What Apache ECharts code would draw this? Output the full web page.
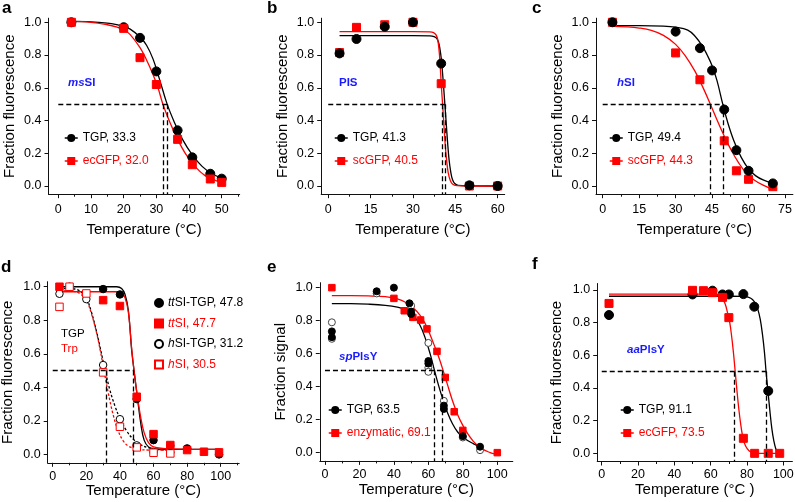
<!DOCTYPE html>
<html><head><meta charset="utf-8">
<script src="https://cdn.jsdelivr.net/npm/echarts@6/dist/echarts.min.js"></script>
<style>html,body{margin:0;padding:0;background:#fff}#c{width:795px;height:502px}</style>
</head><body><div id="c"></div>
<script>
// ---------------- DATA ----------------
const yTicks = [0, 0.2, 0.4, 0.6, 0.8, 1.0];
const aXTicks = [0, 10, 20, 30, 40, 50];      const aXMinor = [5, 15, 25, 35, 45, 55];
const bXTicks = [0, 15, 30, 45, 60];          const bXMinor = [7.5, 22.5, 37.5, 52.5];
const cXTicks = [0, 15, 30, 45, 60, 75];      const cXMinor = [7.5, 22.5, 37.5, 52.5, 67.5];
const dXTicks = [0, 20, 40, 60, 80, 100];     const dXMinor = [10, 30, 50, 70, 90, 110];
const eXTicks = [0, 20, 40, 60, 80, 100];     const eXMinor = [10, 30, 50, 70, 90];
const fXTicks = [0, 20, 40, 60, 80, 100];     const fXMinor = [10, 30, 50, 70, 90];

// panel a : msSI
const aTgpPts = [[4,1.0],[20,0.97],[25,0.905],[30,0.70],[36.5,0.34],[41,0.175],[46.5,0.075],[50,0.045]];
const aGfpPts = [[4,1.0],[20,0.963],[25,0.784],[30,0.62],[36.5,0.285],[41,0.13],[46.5,0.043],[50,0.022]];
const aTgpFit = [[4,1.005],[10,1.003],[15,0.995],[18,0.985],[20,0.975],[22,0.958],[25,0.91],[27,0.86],[29,0.775],[31,0.65],[33.3,0.5],[35.5,0.39],[38,0.285],[41,0.19],[44,0.12],[47,0.075],[50,0.048]];
const aGfpFit = [[4,1.005],[10,1.0],[15,0.985],[18,0.97],[20,0.955],[22,0.925],[25,0.845],[27,0.77],[29,0.68],[30.5,0.6],[32,0.5],[34,0.395],[36.5,0.285],[39,0.195],[42,0.115],[45,0.062],[48,0.035],[50,0.022]];
const aTm = [32.0, 33.4];

// panel b : PIS
const bTgpPts = [[4,0.81],[10,0.898],[20,0.973],[30,1.0],[40,0.748],[50,0.004],[60,0.0]];
const bGfpPts = [[4,0.815],[10,0.969],[20,0.985],[30,1.0],[40,0.625],[50,0.0],[60,0.0]];
const bTgpFit = [[4,0.918],[30,0.918],[36,0.917],[37.5,0.912],[38.5,0.9],[39.2,0.87],[39.8,0.81],[40.2,0.75],[40.8,0.62],[41.3,0.5],[41.8,0.38],[42.3,0.26],[42.8,0.16],[43.4,0.085],[44,0.04],[44.8,0.015],[46,0.004],[50,0.001],[60,0.0]];
const bGfpFit = [[4,0.943],[30,0.943],[36,0.942],[37.3,0.937],[38.3,0.92],[38.9,0.88],[39.4,0.8],[39.8,0.69],[40.1,0.6],[40.5,0.5],[40.9,0.39],[41.4,0.26],[41.9,0.16],[42.5,0.08],[43.2,0.035],[44,0.012],[45.5,0.002],[50,0.0],[60,0.0]];
const bTm = [40.5, 41.3];

// panel c : hSI
const cTgpPts = [[4,1.0],[30,0.943],[40,0.842],[45,0.706],[50,0.467],[55,0.219],[60,0.093],[70,0.016]];
const cGfpPts = [[4,1.0],[30,0.813],[40,0.649],[50,0.276],[55,0.093],[60,0.041],[70,-0.004]];
const cTgpFit = [[4,0.98],[15,0.98],[25,0.977],[30,0.97],[35,0.952],[38,0.915],[41,0.855],[43,0.8],[45,0.735],[47,0.645],[49.4,0.5],[51.5,0.385],[54,0.275],[57,0.175],[60,0.105],[63,0.062],[66,0.037],[70,0.016]];
const cGfpFit = [[4,0.975],[10,0.972],[15,0.965],[20,0.95],[25,0.92],[30,0.865],[34,0.795],[38,0.7],[41,0.61],[44.3,0.5],[47,0.405],[50,0.305],[53,0.215],[56,0.14],[59,0.08],[62,0.04],[66,0.005],[70,-0.02]];
const cTm = [44.3, 49.4];

// panel d : ttSI / hSI
const dTtTgpPts = [[30,0.986],[40,0.954],[50,0.33],[60,0.085],[70,0.052],[80,0.036],[99,0.0]];
const dTtPts    = [[4,1.0],[30,0.92],[40,0.885],[50,0.344],[60,0.121],[70,0.056],[80,0.026],[90,0.016],[99,0.012]];
const dHTgpPts  = [[4,0.958],[10,1.0],[20,0.926],[30,0.533],[40,0.21],[50,0.054],[60,0.014],[70,0.012]];
const dHPts     = [[4,0.88],[10,1.0],[20,0.96],[30,0.489],[40,0.165],[50,0.042],[60,0.01],[70,0.006]];
const dTtTgpFit = [[4,1.0],[30,1.0],[38,1.0],[41,0.99],[43,0.955],[45,0.86],[47,0.62],[48.4,0.5],[50.4,0.34],[52.4,0.185],[54.4,0.085],[57,0.045],[60,0.035],[70,0.03],[100,0.03]];
const dTtFit    = [[4,0.97],[30,0.97],[38,0.97],[41,0.962],[43,0.935],[45,0.85],[47,0.63],[48.4,0.5],[50.4,0.345],[52.4,0.22],[54.4,0.13],[57,0.07],[60,0.045],[70,0.033],[100,0.03]];
const dHTgpFit  = [[4,0.985],[8,0.99],[12,0.988],[16,0.975],[20,0.93],[23,0.85],[26,0.735],[28.5,0.625],[31.2,0.5],[34,0.385],[37,0.29],[40,0.215],[44,0.14],[48,0.09],[52,0.06],[57,0.04],[62,0.03],[70,0.026]];
const dHFit     = [[4,0.975],[8,0.976],[12,0.973],[16,0.96],[20,0.92],[23,0.84],[26,0.73],[28.5,0.61],[30.5,0.5],[33,0.37],[36,0.235],[39,0.14],[42,0.08],[45,0.05],[50,0.032],[58,0.026],[70,0.025]];
const dTm = [31.6, 48.2];

// panel e : spPlsY
const eTgpPts  = [[4,0.735],[4,0.70],[30,0.978],[40,1.0],[49,0.905],[50,0.855],[50,0.84],[60,0.555],[60,0.54],[69,0.285],[69,0.265],[80,0.10],[90,0.036]];
const eTgpOpen = [[4,0.79],[4,0.69],[30,0.965],[50,0.89],[60,0.665],[60,0.515],[60,0.49],[69,0.314],[80,0.092],[90,0.015]];
const eEnzPts  = [[4,1.0],[40,0.935],[46,0.86],[51,0.82],[55.5,0.804],[59.2,0.75],[65,0.614],[69.8,0.456],[75,0.248],[80,0.135],[100,0.0]];
const eTgpFit  = [[4,0.903],[15,0.903],[25,0.9],[35,0.893],[42,0.882],[47,0.865],[51,0.835],[55,0.775],[58,0.7],[61,0.6],[63.5,0.5],[66,0.405],[68.5,0.32],[71,0.245],[74,0.175],[77,0.125],[80,0.095],[83,0.072],[86,0.055],[90,0.035]];
const eEnzFit  = [[4,0.952],[15,0.952],[25,0.95],[35,0.945],[42,0.932],[47,0.91],[51,0.88],[55,0.835],[58,0.785],[61,0.715],[64,0.635],[66.5,0.565],[68.5,0.5],[71,0.415],[74,0.315],[77,0.23],[80,0.165],[83,0.112],[86,0.07],[89,0.04],[92,0.018],[95,0.004],[98,-0.006],[100,0.0]];
const eTm = [63.5, 67.8];

// panel f : aaPlsY
const fTgpPts = [[4,0.847],[50,0.973],[61,0.996],[66.5,0.973],[70,0.973],[78,0.975],[84,0.898],[91.7,0.382]];
const fGfpPts = [[4,0.918],[50,0.998],[56,0.996],[61,0.984],[66.5,0.955],[70,0.831],[78,0.092],[84.2,0.0],[91.7,0.0],[98,0.0]];
const fTgpFit = [[4,0.962],[40,0.962],[70,0.962],[78,0.961],[81,0.955],[83,0.942],[84.5,0.92],[86,0.88],[87.3,0.82],[88.5,0.73],[89.6,0.62],[90.5,0.5],[91.5,0.385],[92.6,0.26],[93.7,0.15],[94.8,0.075],[95.8,0.03],[96.8,0.008],[97.5,0.0]];
const fGfpFit = [[4,0.975],[40,0.975],[60,0.975],[63,0.972],[65,0.963],[66.5,0.948],[68,0.915],[69.3,0.86],[70.5,0.8],[71.5,0.72],[72.5,0.62],[73.5,0.5],[74.5,0.38],[75.5,0.27],[76.5,0.18],[77.5,0.11],[78.5,0.065],[80,0.03],[82,0.008],[85,0.0],[98,0.0]];
const fTm = [73.2, 90.7];

// legend names
const aNames = ['TGP, 33.3', 'ecGFP, 32.0'];
const bNames = ['TGP, 41.3', 'scGFP, 40.5'];
const cNames = ['TGP, 49.4', 'scGFP, 44.3'];
const dNames = ['ttSI-TGP, 47.8', 'ttSI, 47.7', 'hSI-TGP, 31.2', 'hSI, 30.5'];
const eNames = ['TGP, 63.5', 'enzymatic, 69.1'];
const fNames = ['TGP, 91.1', 'ecGFP, 73.5'];

// ---------------- STYLE / LAYOUT ----------------
const FONT = '"Liberation Sans", Arial, sans-serif';
const BLACK = '#000000', RED = '#ff0000', BLUE = '#1a1aff';
const layout = [
  {left:48.5, top:18.2, width:191.2, height:176, xMin:-3, xMax:55.5, yMin:-0.05, yMax:1.025, xT:aXTicks, xM:aXMinor, yName:'Fraction fluorescence', xName:'Temperature (°C)', xGap:28, xMargin:9, yGap:31},
  {left:321.2, top:18.2, width:183.5, height:176, xMin:-2.5, xMax:62.5, yMin:-0.05, yMax:1.025, xT:bXTicks, xM:bXMinor, yName:'Fraction fluorescence', xName:'Temperature (°C)', xGap:28, xMargin:9, yGap:31},
  {left:596, top:18.2, width:196.9, height:176, xMin:-2.75, xMax:78.25, yMin:-0.05, yMax:1.025, xT:cXTicks, xM:cXMinor, yName:'Fraction fluorescence', xName:'Temperature (°C)', xGap:28, xMargin:9, yGap:31},
  {left:47.7, top:281.7, width:191.5, height:181.1, xMin:-3, xMax:111, yMin:-0.05, yMax:1.03, xT:dXTicks, xM:dXMinor, yName:'Fraction fluorescence', xName:'Temperature (°C)', xGap:21, xMargin:7, yGap:32},
  {left:319.8, top:282.7, width:193, height:178.2, xMin:-3, xMax:109, yMin:-0.05, yMax:1.03, xT:eXTicks, xM:eXMinor, yName:'Fraction signal', xName:'Temperature (°C)', xGap:21, xMargin:7, yGap:31},
  {left:597.2, top:283.5, width:195.2, height:178, xMin:-2.5, xMax:105, yMin:-0.05, yMax:1.04, xT:fXTicks, xM:fXMinor, yName:'Fraction fluorescence', xName:'Temperature (°C )', xGap:21, xMargin:7, yGap:33}
];
const tms = [aTm, bTm, cTm, dTm, eTm, fTm];

const grids = [], xAxes = [], yAxes = [], series = [], legends = [], graphics = [];
const axisCol = '#111';
layout.forEach((p, i) => {
  grids.push({left:p.left, top:p.top, width:p.width, height:p.height, containLabel:false, outerBoundsMode:'none'});
  xAxes.push({gridIndex:i, type:'value', position:'bottom', min:p.xMin, max:p.xMax, splitLine:{show:false},
    name:p.xName, nameLocation:'middle', nameGap:p.xGap, nameTextStyle:{fontSize:15, color:'#000', fontFamily:FONT},
    axisLine:{show:true, onZero:false, lineStyle:{color:axisCol, width:1}},
    axisTick:{show:true, inside:false, length:4, lineStyle:{color:axisCol, width:1}, customValues:p.xT},
    axisLabel:{show:true, customValues:p.xT, margin:p.xMargin, fontSize:12.5, color:'#000', fontFamily:FONT, formatter:v => String(v)}});
  xAxes.push({gridIndex:i, type:'value', position:'bottom', min:p.xMin, max:p.xMax, splitLine:{show:false},
    axisLine:{show:false, onZero:false},
    axisTick:{show:true, inside:false, length:2.5, lineStyle:{color:axisCol, width:1}, customValues:p.xM},
    axisLabel:{show:false}});
  yAxes.push({gridIndex:i, type:'value', position:'left', min:p.yMin, max:p.yMax, splitLine:{show:false},
    name:p.yName, nameLocation:'middle', nameGap:p.yGap, nameRotate:90, nameTextStyle:{fontSize:15, color:'#000', fontFamily:FONT},
    axisLine:{show:true, onZero:false, lineStyle:{color:axisCol, width:1}},
    axisTick:{show:true, inside:false, length:4, lineStyle:{color:axisCol, width:1}, customValues:yTicks},
    axisLabel:{show:true, customValues:yTicks, margin:7, fontSize:12.5, color:'#000', fontFamily:FONT, formatter:v => v.toFixed(1)}});
});

function guide(i) {
  const tm = tms[i], p = layout[i];
  const ml = [[{coord:[0, 0.5]}, {coord:[Math.max(...tm), 0.5]}]];
  tm.forEach(t => ml.push([{coord:[t, 0.5]}, {coord:[t, p.yMin]}]));
  return {silent:true, symbol:['none','none'], label:{show:false}, emphasis:{disabled:true},
    lineStyle:{color:'#000', width:1.3, type:[5,3]}, data:ml};
}
// fitted curve; when a name is given it also carries the legend entry (line + marker)
function fit(i, data, color, opts) {
  opts = opts || {};
  const s = {type:'line', xAxisIndex:2*i, yAxisIndex:i, data:data, smooth:0.4,
    symbol:opts.symbol || 'none', symbolSize:9, showSymbol:false, silent:true, z:2,
    itemStyle:{color:color, opacity:1}, lineStyle:{color:color, width:1.3, type:opts.dash || 'solid'}};
  if (opts.name) s.name = opts.name;
  if (opts.guide) s.markLine = guide(i);
  return s;
}
function scat(i, data, color, border, symbol, size, z, name) {
  const s = {type:'scatter', xAxisIndex:2*i, yAxisIndex:i, data:data, symbol:symbol, symbolSize:size,
    silent:true, z:z || 3, itemStyle:{color:color, borderColor:border, borderWidth:1, opacity:1}};
  if (name) s.name = name;
  return s;
}

// a
series.push(fit(0, aTgpFit, BLACK, {name:aNames[0], symbol:'circle', guide:true}), fit(0, aGfpFit, RED, {name:aNames[1], symbol:'rect'}));
series.push(scat(0, aTgpPts, BLACK, BLACK, 'circle', 9, 3), scat(0, aGfpPts, RED, RED, 'rect', 8, 4));
// b
series.push(fit(1, bTgpFit, BLACK, {name:bNames[0], symbol:'circle', guide:true}), fit(1, bGfpFit, RED, {name:bNames[1], symbol:'rect'}));
series.push(scat(1, bGfpPts, RED, RED, 'rect', 8, 3), scat(1, bTgpPts, BLACK, BLACK, 'circle', 9, 4));
// c
series.push(fit(2, cTgpFit, BLACK, {name:cNames[0], symbol:'circle', guide:true}), fit(2, cGfpFit, RED, {name:cNames[1], symbol:'rect'}));
series.push(scat(2, cGfpPts, RED, RED, 'rect', 8, 3), scat(2, cTgpPts, BLACK, BLACK, 'circle', 9, 4));
// d
series.push(fit(3, dTtTgpFit, BLACK, {guide:true}), fit(3, dTtFit, RED), fit(3, dHTgpFit, BLACK, {dash:[2.5,2]}), fit(3, dHFit, RED, {dash:[2.5,2]}));
series.push(scat(3, dHTgpPts, '#fff', BLACK, 'circle', 7.5, 3, dNames[2]), scat(3, dHPts, '#fff', RED, 'rect', 7.5, 3, dNames[3]));
series.push(scat(3, dTtTgpPts, BLACK, BLACK, 'circle', 7.5, 4, dNames[0]), scat(3, dTtPts, RED, RED, 'rect', 7.5, 5, dNames[1]));
// e
series.push(fit(4, eTgpFit, BLACK, {name:eNames[0], symbol:'circle', guide:true}), fit(4, eEnzFit, RED, {name:eNames[1], symbol:'rect'}));
series.push(scat(4, eEnzPts, RED, RED, 'rect', 6.5, 3));
series.push(scat(4, eTgpOpen, '#fff', '#444', 'circle', 7, 4));
series.push(scat(4, eTgpPts, BLACK, BLACK, 'circle', 7, 5));
// f
series.push(fit(5, fTgpFit, BLACK, {name:fNames[0], symbol:'circle', guide:true}), fit(5, fGfpFit, RED, {name:fNames[1], symbol:'rect'}));
series.push(scat(5, fTgpPts, BLACK, BLACK, 'circle', 9, 3), scat(5, fGfpPts, RED, RED, 'rect', 8, 4));

// legends
function lineLegend(names, left, top) {
  return {left:left, top:top, padding:0, orient:'vertical', itemWidth:13, itemHeight:10, itemGap:11, selectedMode:false,
    textStyle:{fontSize:12, fontFamily:FONT}, lineStyle:{width:1.5}, itemStyle:{opacity:1},
    data:[{name:names[0], textStyle:{color:BLACK}}, {name:names[1], textStyle:{color:RED}}]};
}
legends.push(lineLegend(aNames, 64, 132));
legends.push(lineLegend(bNames, 334, 132));
legends.push(lineLegend(cNames, 609, 132));
legends.push(lineLegend(eNames, 328, 404));
legends.push(lineLegend(fNames, 620, 404));
function richItem(name, color) {
  return {name:name, textStyle:{color:color, rich:{i:{fontStyle:'italic', color:color, fontSize:12, fontFamily:FONT}, n:{color:color, fontSize:12, fontFamily:FONT}}}};
}
legends.push({left:154, top:297, padding:0, orient:'vertical', itemWidth:8, itemHeight:8, itemGap:8.5, selectedMode:false,
  textStyle:{fontSize:12, fontFamily:FONT}, itemStyle:{opacity:1},
  formatter: function (name) {
    if (name.indexOf('tt') === 0) return '{i|tt}{n|' + name.slice(2) + '}';
    if (name.indexOf('h') === 0) return '{i|h}{n|' + name.slice(1) + '}';
    return name;
  },
  data:[richItem(dNames[0], BLACK), richItem(dNames[1], RED), richItem(dNames[2], BLACK), richItem(dNames[3], RED)]});

// panel letters
const letters = [['a',2,8],['b',267,8],['c',532,8],['d',1,267.5],['e',267,267.5],['f',532,264.5]];
letters.forEach(l => graphics.push({type:'text', x:l[1], y:l[2], silent:true,
  style:{text:l[0], font:'bold 17px ' + FONT, fill:'#000', verticalAlign:'middle'}}));
// protein labels
function blueLabel(x, y, it, rest) {
  graphics.push({type:'text', x:x, y:y, silent:true, style:{text:(it ? '{i|' + it + '}' : '') + '{n|' + rest + '}', verticalAlign:'middle',
    rich:{i:{fontStyle:'italic', fontWeight:'bold', fontSize:11.5, fontFamily:FONT, fill:BLUE},
          n:{fontWeight:'bold', fontSize:11.5, fontFamily:FONT, fill:BLUE}}}});
}
blueLabel(68, 83, 'ms', 'SI');
blueLabel(339, 83, '', 'PIS');
blueLabel(617, 83, 'h', 'SI');
blueLabel(339, 357, 'sp', 'PlsY');
blueLabel(627, 350, 'aa', 'PlsY');
graphics.push({type:'text', x:61, y:334, silent:true, style:{text:'TGP', font:'11.5px ' + FONT, fill:BLACK, verticalAlign:'middle'}});
graphics.push({type:'text', x:61, y:349, silent:true, style:{text:'Trp', font:'11.5px ' + FONT, fill:RED, verticalAlign:'middle'}});

const chart = echarts.init(document.getElementById('c'), null, {renderer:'canvas'});
chart.setOption({
  animation:false, backgroundColor:'#fff', textStyle:{fontFamily:FONT},
  grid:grids, xAxis:xAxes, yAxis:yAxes, series:series, legend:legends, graphic:graphics
});
</script></body></html>
